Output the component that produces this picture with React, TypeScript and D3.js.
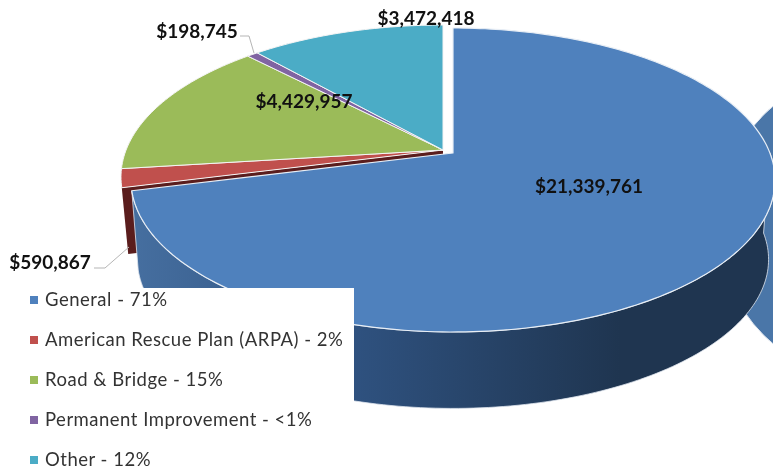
import * as d3 from "d3";

const categories = ["General", "American Rescue Plan (ARPA)", "Road & Bridge", "Permanent Improvement", "Other"];
const amounts = [21339761, 590867, 4429957, 198745, 3472418];
const amountLabels = ["$21,339,761", "$590,867", "$4,429,957", "$198,745", "$3,472,418"];
const shareLabels = ["71%", "2%", "15%", "<1%", "12%"];
const colors = ["#4f81bd", "#c0504d", "#9bbb59", "#8064a2", "#4bacc6"];

const width = 773;
const height = 472;

// perspective of the tilted disc
const tilt = 0.1776;
const radiusX = 316.9;
const radiusY = 147.2;

// main slice is pulled out from the rest
const mainCenter: [number, number] = [453, 153];
const restCenter: [number, number] = [443, 150];
const mainDepth = 80;
const redDepth = 67;
const bottomScale = 0.98;

const labelSpots: [number, number][] = [
  [589, 186],
  [50, 262],
  [304, 101],
  [197, 31],
  [426, 18],
];

const rim = (angle: number, center: [number, number], depth = 0, scale = 1): [number, number] => {
  const u = Math.sin(angle);
  const v = Math.cos(angle);
  const w = 1 + tilt * v;
  return [center[0] + (scale * radiusX * u) / w, center[1] + depth - (scale * radiusY * v) / w];
};

const arcPoints = (a0: number, a1: number, center: [number, number], depth = 0, scale = 1) => {
  const steps = Math.max(2, Math.ceil(Math.abs(a1 - a0) / 0.02));
  return d3.range(steps + 1).map((i) => rim(a0 + ((a1 - a0) * i) / steps, center, depth, scale));
};

const line = d3.line();

export default function App() {
  const slices = d3.pie<number>().sort(null)(amounts);
  const centers = slices.map((_, i) => (i === 0 ? mainCenter : restCenter));

  const mainEnd = slices[0].endAngle;
  const wall = [
    ...arcPoints(Math.PI / 2, mainEnd, mainCenter),
    ...arcPoints(mainEnd, Math.PI / 2, mainCenter, mainDepth, bottomScale),
  ];

  const red = slices[1];
  const redWall = [
    rim(red.startAngle, restCenter),
    restCenter,
    [restCenter[0], restCenter[1] + redDepth] as [number, number],
    rim(red.startAngle, restCenter, redDepth, bottomScale),
  ];

  const legendY = d3.scalePoint<string>().domain(categories).range([300, 460]);

  return (
    <svg
      width={width}
      height={height}
      viewBox={`0 0 ${width} ${height}`}
      style={{ position: "fixed", left: 0, top: 0, background: "#fff", filter: "blur(0.4px)" }}
    >
      <defs>
        <linearGradient id="wallFill" gradientUnits="userSpaceOnUse" x1="130" x2="620" y1="0" y2="0">
          <stop offset="0" stopColor="#466fa0" />
          <stop offset="0.45" stopColor="#2f5280" />
          <stop offset="1" stopColor="#1f3550" />
        </linearGradient>
      </defs>

      {/* piece of the disc showing behind on the right */}
      <circle cx={874} cy={225} r={156} fill="#4a76a8" stroke="#dfe6ef" strokeWidth={1} />

      <path d={line(redWall) + "Z"} fill="#5a1d1d" />

      {slices.slice(1).map((s, i) => (
        <path
          key={categories[i + 1]}
          d={line([centers[i + 1], ...arcPoints(s.startAngle, s.endAngle, centers[i + 1])]) + "Z"}
          fill={colors[i + 1]}
          stroke="#f4f4f4"
          strokeWidth={1}
          strokeLinejoin="round"
        />
      ))}

      <path d={line(wall) + "Z"} fill="url(#wallFill)" stroke="#dfe6ef" strokeWidth={0.8} />
      <path
        d={line([mainCenter, ...arcPoints(slices[0].startAngle, mainEnd, mainCenter)]) + "Z"}
        fill={colors[0]}
        stroke="#e8eef5"
        strokeWidth={1.2}
        strokeLinejoin="round"
      />

      {/* leader lines */}
      <polyline points="94,268 105,268 129,247" fill="none" stroke="#b5b5b5" strokeWidth={1} />
      <polyline points="240,36 249,36 254,53" fill="none" stroke="#b5b5b5" strokeWidth={1} />

      {amountLabels.map((t, i) => (
        <text
          key={t}
          x={labelSpots[i][0]}
          y={labelSpots[i][1]}
          dy="0.35em"
          textAnchor="middle"
          fontFamily="Lato, sans-serif"
          fontWeight={700}
          fontSize={19}
          fill="#111"
        >
          {t}
        </text>
      ))}

      {/* legend box sits on top of the pie */}
      <rect x={0} y={288} width={354} height={height - 288} fill="#fff" />
      {categories.map((c, i) => (
        <g key={c} transform={`translate(0,${legendY(c)})`}>
          <rect x={30} y={-4} width={8} height={8} fill={colors[i]} />
          <text
            x={45}
            dy="0.35em"
            fontFamily="Lato, sans-serif"
            fontSize={18.5}
            letterSpacing={0.5}
            fill="#333"
          >
            {`${c} - ${shareLabels[i]}`}
          </text>
        </g>
      ))}
    </svg>
  );
}
